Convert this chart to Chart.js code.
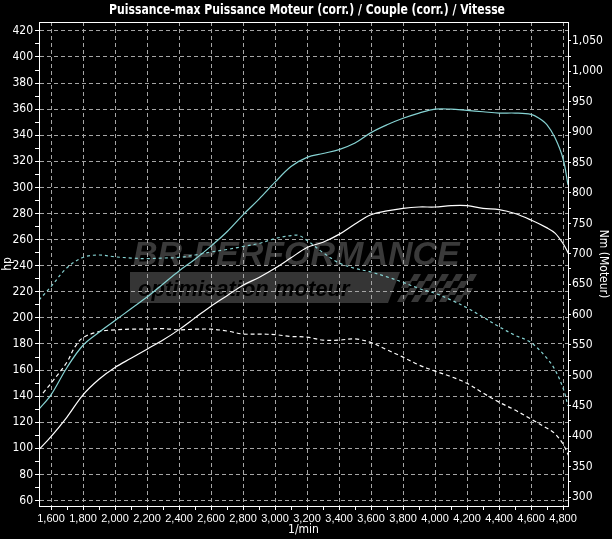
<!DOCTYPE html>
<html>
<head>
<meta charset="utf-8">
<script src="https://cdn.jsdelivr.net/npm/chart.js@4.4.1/dist/chart.umd.min.js"></script>
<style>
  html, body { margin: 0; padding: 0; background: #000; }
  canvas { display: block; }
</style>
</head>
<body>
<canvas id="dyno" width="612" height="539"></canvas>
<script>
'use strict';

// rpm / hp : tuned power (cyan)
var rpmTunedPower = [1525, 1600, 1700, 1800, 1900, 2000, 2100, 2200, 2300, 2400, 2500, 2600, 2700, 2800, 2900, 3000, 3100, 3200, 3300, 3400, 3500, 3600, 3700, 3800, 3900, 4000, 4100, 4200, 4300, 4400, 4500, 4600, 4650, 4700, 4750, 4800, 4831];
var hpTuned = [130, 141, 162, 179, 189, 198, 207, 216, 226, 236, 245, 255, 266, 279, 291, 304, 316, 323, 326, 329, 334, 342, 348, 353, 357, 360, 360, 359, 358, 357, 357, 356, 353, 348, 338, 322, 302];

// rpm / hp : stock power (white)
var rpmStockPower = [1525, 1600, 1700, 1800, 1900, 2000, 2100, 2200, 2300, 2400, 2500, 2600, 2700, 2800, 2900, 3000, 3100, 3200, 3300, 3400, 3500, 3600, 3700, 3800, 3900, 4000, 4100, 4200, 4300, 4400, 4500, 4600, 4700, 4750, 4800, 4835];
var hpStock = [99, 109, 124, 141, 153, 162, 169, 176, 183, 191, 200, 209, 217, 225, 231, 238, 246, 254, 258, 264, 272, 279, 282, 284, 285, 285, 286, 286, 284, 283, 280, 275, 269, 265, 257, 249];

// rpm / Nm : tuned torque (cyan dashed)
var rpmTunedTorque = [1525, 1600, 1700, 1800, 1900, 2000, 2100, 2200, 2300, 2400, 2500, 2600, 2700, 2800, 2900, 3000, 3100, 3150, 3200, 3300, 3400, 3500, 3600, 3700, 3800, 3900, 4000, 4100, 4200, 4300, 4400, 4500, 4600, 4700, 4750, 4800, 4831];
var nmTuned = [624, 646, 677, 694, 698, 695, 693, 692, 693, 694, 698, 703, 707, 712, 717, 725, 730, 730, 722, 702, 685, 676, 670, 662, 653, 643, 635, 624, 611, 596, 580, 566, 554, 528, 509, 479, 450];

// rpm / Nm : stock torque (white dashed)
var rpmStockTorque = [1550, 1600, 1700, 1750, 1800, 1900, 2000, 2100, 2200, 2300, 2400, 2500, 2600, 2700, 2800, 2900, 3000, 3100, 3200, 3300, 3400, 3500, 3600, 3700, 3800, 3900, 4000, 4100, 4200, 4300, 4400, 4500, 4600, 4700, 4750, 4800, 4835];
var nmStock = [471, 487, 522, 547, 562, 572, 575, 576, 576, 577, 575, 576, 576, 573, 568, 568, 567, 564, 563, 558, 558, 560, 554, 542, 530, 517, 507, 498, 487, 471, 456, 443, 428, 413, 404, 387, 368];

// axis tick values
var rpmTicks = [1600, 1800, 2000, 2200, 2400, 2600, 2800, 3000, 3200, 3400, 3600, 3800, 4000, 4200, 4400, 4600, 4800];
var hpTicks = [60, 80, 100, 120, 140, 160, 180, 200, 220, 240, 260, 280, 300, 320, 340, 360, 380, 400, 420];
var nmTicks = [300, 350, 400, 450, 500, 550, 600, 650, 700, 750, 800, 850, 900, 950, 1000, 1050];

var titleText = 'Puissance-max Puissance Moteur (corr.) / Couple (corr.) / Vitesse';
var CYAN = '#86d3d3';
var FONT = '"Liberation Sans Narrow", "DejaVu Sans Condensed", "Liberation Sans", sans-serif';

function pairs(xs, ys) {
  return xs.map(function (x, i) { return { x: x, y: ys[i] }; });
}

// major ticks plus one minor tick between each pair
function withMinor(list) {
  var out = [];
  list.forEach(function (v, i) {
    out.push({ value: v, major: true });
    if (i < list.length - 1) out.push({ value: (v + list[i + 1]) / 2, major: false });
  });
  return out;
}

function isMajor(list, v) {
  return list.indexOf(v) !== -1;
}

var tickFont = { family: FONT, size: 12 };

var backdrop = {
  id: 'backdrop',
  beforeDraw: function (chart) {
    var ctx = chart.ctx;
    ctx.save();
    // watermark
    ctx.fillStyle = '#3a3a3a';
    ctx.font = 'italic bold 34px "Liberation Sans", sans-serif';
    ctx.textBaseline = 'alphabetic';
    ctx.fillText('BR-PERFORMANCE', 133, 265, 344);
    ctx.fillStyle = '#353535';
    ctx.beginPath();
    ctx.moveTo(130, 272);
    ctx.lineTo(400, 272);
    ctx.lineTo(388, 303);
    ctx.lineTo(130, 303);
    ctx.closePath();
    ctx.fill();
    ctx.fillStyle = '#000';
    ctx.font = 'italic bold 22px "Liberation Sans", sans-serif';
    ctx.fillText('optimisation moteur', 138, 296, 239);
    // chequered flag
    ctx.fillStyle = '#383838';
    for (var r = 0; r < 4; r++) {
      for (var c = 0; c < 11; c++) {
        if ((r + c) % 2) continue;
        var x0 = 396 + c * 7 - r * 2;
        var y0 = 274 + r * 7;
        if (x0 < 392 + (3 - r) * 3) continue;
        ctx.beginPath();
        ctx.moveTo(x0 + 4, y0);
        ctx.lineTo(x0 + 11, y0);
        ctx.lineTo(x0 + 7, y0 + 7);
        ctx.lineTo(x0, y0 + 7);
        ctx.closePath();
        ctx.fill();
      }
    }
    ctx.restore();
  },
  afterDraw: function (chart) {
    var ctx = chart.ctx;
    var a = chart.chartArea;
    ctx.save();
    ctx.strokeStyle = '#fff';
    ctx.lineWidth = 1;
    ctx.strokeRect(Math.round(a.left) + 0.5, Math.round(a.top) + 0.5, Math.round(a.right - a.left), Math.round(a.bottom - a.top));
    ctx.fillStyle = '#fff';
    ctx.font = 'bold 14px ' + FONT;
    ctx.textAlign = 'center';
    ctx.textBaseline = 'middle';
    ctx.fillText(titleText, 307, 10, 396);
    ctx.restore();
  }
};

var ctx = document.getElementById('dyno').getContext('2d');
var chart = new Chart(ctx, {
  type: 'line',
  data: {
    datasets: [{
      label: 'Puissance (corr.)',
      data: pairs(rpmTunedPower, hpTuned),
      yAxisID: 'y',
      borderColor: CYAN,
      borderWidth: 1.2
    }, {
      label: 'Puissance origine',
      data: pairs(rpmStockPower, hpStock),
      yAxisID: 'y',
      borderColor: '#ffffff',
      borderWidth: 1.2
    }, {
      label: 'Couple (corr.)',
      data: pairs(rpmTunedTorque, nmTuned),
      yAxisID: 'y1',
      borderColor: CYAN,
      borderWidth: 1.2,
      borderDash: [3, 3]
    }, {
      label: 'Couple origine',
      data: pairs(rpmStockTorque, nmStock),
      yAxisID: 'y1',
      borderColor: '#ffffff',
      borderWidth: 1.2,
      borderDash: [4, 3]
    }]
  },
  options: {
    responsive: false,
    animation: false,
    layout: { padding: { top: 22, left: 0, right: 0, bottom: 0 } },
    elements: {
      point: { radius: 0 },
      line: { tension: 0.35, fill: false }
    },
    plugins: {
      legend: { display: false },
      tooltip: { enabled: false }
    },
    scales: {
      x: {
        type: 'linear',
        min: 1525,
        max: 4831,
        afterFit: function (s) { s.height = 33; },
        afterBuildTicks: function (s) { s.ticks = withMinor(rpmTicks); },
        ticks: {
          color: '#fff',
          font: { family: '"Liberation Sans", sans-serif', size: 11 },
          padding: 2,
          maxRotation: 0,
          autoSkip: false,
          callback: function (v) { return isMajor(rpmTicks, v) ? v.toLocaleString('en-US') : ''; }
        },
        grid: {
          color: function (c) { return c.tick && isMajor(rpmTicks, c.tick.value) ? '#a5a5a5' : 'rgba(0,0,0,0)'; },
          tickColor: '#fff',
          tickLength: 4
        },
        border: { color: '#fff', dash: [4, 3] },
        title: { display: true, text: '1/min', color: '#fff', font: { family: FONT, size: 12 }, padding: { top: 0, bottom: 2 } }
      },
      y: {
        position: 'left',
        min: 55.8,
        max: 426.8,
        afterFit: function (s) { s.width = 39; },
        afterBuildTicks: function (s) { s.ticks = withMinor(hpTicks); },
        ticks: {
          color: '#fff',
          font: tickFont,
          padding: 2,
          autoSkip: false,
          callback: function (v) { return isMajor(hpTicks, v) ? String(v) : ''; }
        },
        grid: {
          color: function (c) { return c.tick && isMajor(hpTicks, c.tick.value) ? '#a5a5a5' : 'rgba(0,0,0,0)'; },
          tickColor: '#fff',
          tickLength: 4
        },
        border: { color: '#fff', dash: [4, 3] },
        title: { display: true, text: 'hp', color: '#fff', font: { family: FONT, size: 12 }, padding: { top: 1, bottom: 0 } }
      },
      y1: {
        position: 'right',
        min: 285.2,
        max: 1081.2,
        afterFit: function (s) { s.width = 44; },
        afterBuildTicks: function (s) { s.ticks = withMinor(nmTicks); },
        ticks: {
          color: '#fff',
          font: tickFont,
          padding: 1,
          autoSkip: false,
          callback: function (v) { return isMajor(nmTicks, v) ? v.toLocaleString('en-US') : ''; }
        },
        grid: {
          drawOnChartArea: false,
          color: '#fff',
          tickColor: '#fff',
          tickLength: 3
        },
        border: { color: '#fff' },
        title: { display: true, text: 'Nm (Moteur)', color: '#fff', font: { family: FONT, size: 12 }, padding: { top: 2, bottom: 0 } }
      }
    }
  },
  plugins: [backdrop]
});
</script>
</body>
</html>
